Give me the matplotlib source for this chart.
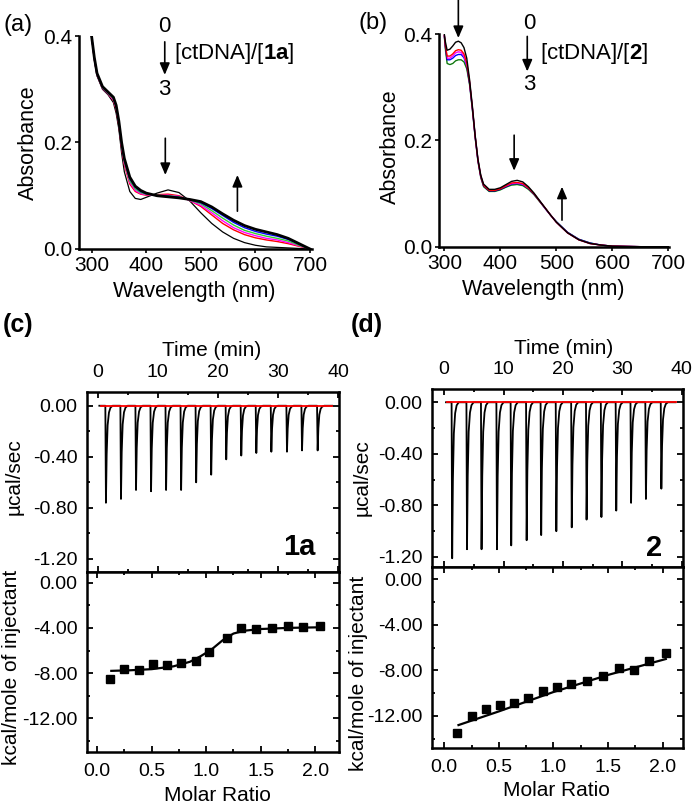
import matplotlib.pyplot as plt
import numpy as np
from matplotlib.ticker import MultipleLocator, FormatStrFormatter

plt.rcParams['font.family'] = ['Liberation Sans', 'DejaVu Sans']
plt.rcParams['axes.unicode_minus'] = False
plt.rcParams['mathtext.fontset'] = 'custom'
plt.rcParams['mathtext.rm'] = 'Liberation Sans'
plt.rcParams['mathtext.bf'] = 'Liberation Sans:bold'

# ---- (a) UV-vis titration of 1a ----
wl_a = [300, 305, 310, 320, 330, 340, 345, 350, 355, 360, 370, 380, 390, 400, 420,
        440, 460, 480, 500, 520, 540, 560, 580, 600, 620, 640, 660, 680, 700]
abs_a_0 = [0.400, 0.355, 0.325, 0.300, 0.290, 0.275, 0.255, 0.225, 0.180, 0.145, 0.108, 0.095, 0.093, 0.097, 0.105,
           0.111, 0.106, 0.090, 0.068, 0.048, 0.032, 0.020, 0.012, 0.007, 0.004, 0.003, 0.002, 0.001, 0.000]
abs_a_red = [0.400, 0.357, 0.327, 0.302, 0.292, 0.279, 0.262, 0.232, 0.190, 0.158, 0.122, 0.108, 0.103, 0.101, 0.102,
             0.103, 0.100, 0.091, 0.080, 0.064, 0.048, 0.036, 0.027, 0.021, 0.017, 0.014, 0.010, 0.005, 0.000]
abs_a_mag = [0.400, 0.357, 0.327, 0.302, 0.292, 0.280, 0.264, 0.234, 0.192, 0.161, 0.125, 0.110, 0.104, 0.102, 0.101,
             0.101, 0.099, 0.091, 0.082, 0.068, 0.053, 0.040, 0.031, 0.025, 0.020, 0.017, 0.012, 0.006, 0.000]
abs_a_green = [0.400, 0.358, 0.328, 0.303, 0.293, 0.282, 0.266, 0.236, 0.195, 0.164, 0.128, 0.113, 0.106, 0.103, 0.101,
               0.100, 0.098, 0.092, 0.085, 0.072, 0.058, 0.045, 0.035, 0.029, 0.024, 0.020, 0.015, 0.007, 0.000]
abs_a_blue = [0.400, 0.359, 0.329, 0.304, 0.294, 0.284, 0.268, 0.238, 0.198, 0.167, 0.132, 0.116, 0.108, 0.104, 0.100,
              0.099, 0.097, 0.093, 0.087, 0.076, 0.063, 0.050, 0.040, 0.033, 0.028, 0.024, 0.018, 0.009, 0.000]
abs_a_3 = [0.400, 0.360, 0.330, 0.305, 0.295, 0.285, 0.270, 0.240, 0.200, 0.170, 0.135, 0.118, 0.110, 0.105, 0.100,
           0.098, 0.096, 0.093, 0.089, 0.079, 0.066, 0.054, 0.044, 0.037, 0.032, 0.027, 0.020, 0.010, 0.000]

# ---- (b) UV-vis titration of 2 ----
wl_b = [300, 302, 305, 310, 315, 320, 325, 330, 335, 340, 345, 350, 355, 360, 365, 370, 380, 390,
        400, 410, 420, 430, 440, 450, 460, 470, 480, 490, 500, 520, 540, 560, 580, 600, 650, 700]
abs_b_0 = [0.400, 0.385, 0.370, 0.372, 0.378, 0.385, 0.387, 0.384, 0.375, 0.355, 0.315, 0.265, 0.210, 0.165,
           0.135, 0.118, 0.108, 0.108, 0.111, 0.117, 0.123, 0.125, 0.122, 0.113, 0.101, 0.087, 0.073, 0.059,
           0.046, 0.026, 0.013, 0.006, 0.003, 0.001, 0.000, 0.000]
abs_b_red = [0.398, 0.378, 0.359, 0.359, 0.363, 0.369, 0.371, 0.370, 0.363, 0.346, 0.311, 0.262, 0.208, 0.163,
             0.133, 0.116, 0.106, 0.106, 0.109, 0.115, 0.120, 0.121, 0.119, 0.111, 0.100, 0.086, 0.073, 0.059,
             0.046, 0.026, 0.013, 0.006, 0.003, 0.001, 0.000, 0.000]
abs_b_mag = [0.397, 0.376, 0.355, 0.355, 0.359, 0.365, 0.367, 0.366, 0.359, 0.343, 0.309, 0.261, 0.207, 0.162,
             0.132, 0.115, 0.106, 0.106, 0.109, 0.114, 0.119, 0.120, 0.118, 0.110, 0.099, 0.086, 0.072, 0.059,
             0.046, 0.026, 0.013, 0.006, 0.003, 0.001, 0.000, 0.000]
abs_b_blue = [0.397, 0.375, 0.352, 0.352, 0.355, 0.360, 0.362, 0.362, 0.356, 0.341, 0.308, 0.260, 0.207, 0.162,
              0.132, 0.115, 0.105, 0.105, 0.108, 0.113, 0.118, 0.119, 0.117, 0.110, 0.099, 0.086, 0.072, 0.059,
              0.047, 0.027, 0.014, 0.007, 0.003, 0.001, 0.000, 0.000]
abs_b_3 = [0.395, 0.370, 0.345, 0.343, 0.345, 0.350, 0.352, 0.352, 0.348, 0.335, 0.305, 0.258, 0.205, 0.160,
           0.130, 0.113, 0.104, 0.104, 0.107, 0.112, 0.116, 0.117, 0.115, 0.108, 0.098, 0.085, 0.072, 0.059,
           0.047, 0.027, 0.014, 0.007, 0.003, 0.001, 0.000, 0.000]

# ---- ITC raw data: injection times (min) and peak depths (ucal/sec) ----
inj_time_c = [1.4, 3.9, 6.4, 8.9, 11.4, 13.9, 16.4, 18.9, 21.4, 23.9, 26.4, 28.9, 31.5, 34.0, 36.6]
peak_c = [0.76, 0.73, 0.66, 0.67, 0.66, 0.66, 0.60, 0.54, 0.42, 0.39, 0.37, 0.36, 0.36, 0.35, 0.35]
inj_time_d = [1.35, 3.85, 6.3, 8.9, 11.3, 13.9, 16.35, 18.9, 21.5, 24.0, 26.5, 29.0, 31.5, 34.0, 36.6]
peak_d = [1.21, 1.14, 1.14, 1.14, 1.11, 1.07, 1.03, 1.00, 0.97, 0.91, 0.89, 0.84, 0.78, 0.75, 0.67]
# spike shape (min after injection, fraction of depth)
spike_dt = [-0.1, 0.0, 0.12, 0.28, 0.5, 0.75, 1.1]
spike_frac = [0.0, 1.0, 0.5, 0.2, 0.07, 0.02, 0.0]

# ---- ITC integrated heats ----
ratio_c = [0.12, 0.25, 0.38, 0.51, 0.64, 0.77, 0.91, 1.03, 1.19, 1.32, 1.46, 1.60, 1.75, 1.89, 2.04]
heat_c = [-8.55, -7.6, -7.75, -7.15, -7.3, -7.1, -6.9, -6.1, -4.9, -4.05, -4.1, -4.05, -3.8, -3.9, -3.8]
fit_x_c = [0.13, 0.3, 0.5, 0.7, 0.85, 0.95, 1.05, 1.15, 1.25, 1.35, 1.5, 1.75, 2.03]
fit_y_c = [-7.8, -7.75, -7.65, -7.4, -7.0, -6.5, -5.9, -5.1, -4.5, -4.25, -4.1, -4.0, -3.95]

ratio_d = [0.12, 0.25, 0.38, 0.51, 0.64, 0.77, 0.90, 1.03, 1.16, 1.31, 1.45, 1.60, 1.74, 1.88, 2.03]
heat_d = [-13.5, -12.0, -11.4, -11.0, -10.9, -10.4, -9.8, -9.5, -9.2, -8.9, -8.5, -7.8, -8.0, -7.2, -6.5]
fit_x_d = [0.13, 0.5, 1.0, 1.5, 2.03]
fit_y_d = [-12.8, -11.6, -9.9, -8.4, -7.0]

W, H = 695, 805
fig = plt.figure(figsize=(W / 100, H / 100), dpi=100)


def box(x0, y0, x1, y1):
    return [x0 / W, 1 - y1 / H, (x1 - x0) / W, (y1 - y0) / H]


def ftext(x, y, s, **kw):
    fig.text(x / W, 1 - y / H, s, ha='center', va='center', **kw)


def uv_style(ax, xlim):
    ax.set_xlim(*xlim)
    ax.set_ylim(0, 0.4)
    ax.set_xticks([300, 400, 500, 600, 700])
    ax.set_yticks([0.0, 0.2, 0.4])
    ax.yaxis.set_major_formatter(FormatStrFormatter('%.1f'))
    for s in ['top', 'right']:
        ax.spines[s].set_visible(False)
    for s in ['left', 'bottom']:
        ax.spines[s].set_linewidth(1.8)
    ax.tick_params(direction='out', length=3, width=1.2, labelsize=15, pad=2)


arrow = dict(arrowstyle='-|>,head_length=0.7,head_width=0.3', color='k', lw=1.2, shrinkA=0, shrinkB=0)

# (a)
ax_a = fig.add_axes(box(79, 36, 311.7, 249))
for y, c, lw in [(abs_a_0, 'k', 0.9), (abs_a_red, 'red', 1.0), (abs_a_mag, 'magenta', 1.0),
                 (abs_a_green, 'limegreen', 1.0), (abs_a_blue, 'blue', 1.0), (abs_a_3, 'k', 2.0)]:
    ax_a.plot(wl_a, y, color=c, lw=lw)
uv_style(ax_a, (277, 703))
ax_a.text(434, 0.4175, '0', ha='center', va='center', fontsize=16, clip_on=False)
ax_a.annotate('', xy=(434, 0.327), xytext=(434, 0.389), arrowprops=arrow, annotation_clip=False)
ax_a.text(434, 0.299, '3', ha='center', va='center', fontsize=16)
ax_a.text(451, 0.3675, r'[ctDNA]/[$\mathbf{1a}$]', ha='left', va='center', fontsize=16, clip_on=False)
ax_a.annotate('', xy=(435, 0.139), xytext=(435, 0.208), arrowprops=arrow)
ax_a.annotate('', xy=(567, 0.139), xytext=(567, 0.071), arrowprops=arrow)

# (b)
ax_b = fig.add_axes(box(439.3, 34.3, 669, 246.7))
for y, c, lw in [(abs_b_3, 'limegreen', 1.0), (abs_b_blue, 'blue', 1.0), (abs_b_mag, 'magenta', 1.0),
                 (abs_b_red, 'red', 1.0), (abs_b_0, 'k', 1.0)]:
    ax_b.plot(wl_b, y, color=c, lw=lw)
ax_b.plot(wl_b, abs_b_3, color='k', lw=0.6, alpha=0.6)
uv_style(ax_b, (291, 701))
ax_b.text(452, 0.421, '0', ha='center', va='center', fontsize=16, clip_on=False)
ax_b.annotate('', xy=(448, 0.33), xytext=(448, 0.396), arrowprops=arrow, annotation_clip=False)
ax_b.text(452, 0.305, '3', ha='center', va='center', fontsize=16)
ax_b.text(470, 0.363, r'[ctDNA]/[$\mathbf{2}$]', ha='left', va='center', fontsize=16, clip_on=False)
ax_b.annotate('', xy=(325, 0.393), xytext=(325, 0.465), arrowprops=arrow, annotation_clip=False)
ax_b.annotate('', xy=(424.6, 0.143), xytext=(424.6, 0.21), arrowprops=arrow)
ax_b.annotate('', xy=(510, 0.113), xytext=(510, 0.05), arrowprops=arrow)

ftext(28, 143, 'Absorbance', rotation=90, fontsize=15.5)
ftext(194, 291.7, 'Wavelength (nm)', fontsize=15.5)
ftext(390, 146.7, 'Absorbance', rotation=90, fontsize=15.5)
ftext(543, 290, 'Wavelength (nm)', fontsize=15.5)
ftext(18, 25, '(a)', fontsize=17)
ftext(373, 23, '(b)', fontsize=17)


def itc_style(ax):
    for s in ax.spines.values():
        s.set_linewidth(1.8)
    ax.tick_params(which='both', direction='in', top=True, right=True, width=1.3, labelsize=14)
    ax.tick_params(which='major', length=4)
    ax.tick_params(which='minor', length=2.5)


def itc_panel(x0, x1, ytop, ymid, ybot, tlim, rlim, ylim_top, ylim_bot,
              inj_time, peaks, ratio, heat, fit_x, fit_y, tag, tag_xy):
    top = fig.add_axes(box(x0, ytop, x1, ymid))
    bot = fig.add_axes(box(x0, ymid, x1, ybot))
    t = [0.3]
    y = [0.0]
    for ti, pi in zip(inj_time, peaks):
        for dt, f in zip(spike_dt, spike_frac):
            t.append(ti + dt)
            y.append(-pi * f)
    t.append(39.0)
    y.append(0.0)
    top.plot(t, y, color='k', lw=1.3)
    top.plot([0.5, 39], [0, 0], color='red', lw=1.3)
    top.set_xlim(*tlim)
    top.set_ylim(*ylim_top)
    top.set_yticks([0, -0.4, -0.8, -1.2])
    top.yaxis.set_minor_locator(MultipleLocator(0.2))
    top.yaxis.set_major_formatter(FormatStrFormatter('%.2f'))
    top.set_xticks([0, 10, 20, 30, 40])
    top.xaxis.set_minor_locator(MultipleLocator(5))
    itc_style(top)
    top.tick_params(labeltop=True, labelbottom=False, pad=8)
    top.tick_params(axis='y', pad=7)
    top.text(tag_xy[0], tag_xy[1], tag, transform=top.transAxes, ha='center', va='center',
             fontsize=21, fontweight='bold')

    bot.plot(ratio, heat, 's', color='k', ms=6)
    bot.plot(fit_x, fit_y, color='k', lw=1.6)
    bot.set_xlim(*rlim)
    bot.set_ylim(*ylim_bot)
    bot.set_yticks([0, -4, -8, -12])
    bot.yaxis.set_minor_locator(MultipleLocator(2))
    bot.yaxis.set_major_formatter(FormatStrFormatter('%.2f'))
    bot.set_xticks([0, 0.5, 1.0, 1.5, 2.0])
    bot.xaxis.set_minor_locator(MultipleLocator(0.25))
    bot.xaxis.set_major_formatter(FormatStrFormatter('%.1f'))
    itc_style(bot)
    bot.tick_params(axis='x', pad=8)
    bot.tick_params(axis='y', pad=7)
    return top, bot


itc_panel(87.3, 339.3, 391.7, 571.7, 751.7, (-1.7, 40.2), (-0.09, 2.22), (-1.30, 0.11), (-14.95, 0.97),
          inj_time_c, peak_c, ratio_c, heat_c, fit_x_c, fit_y_c, '1a', (0.84, 0.137))
itc_panel(432.3, 683.3, 389, 567.3, 748.3, (-2.0, 40.3), (-0.11, 2.19), (-1.28, 0.103), (-14.84, 1.05),
          inj_time_d, peak_d, ratio_d, heat_d, fit_x_d, fit_y_d, '2', (0.883, 0.107))

ftext(212, 350, 'Time (min)', fontsize=15)
ftext(217, 795, 'Molar Ratio', fontsize=15)
ftext(14, 477, 'µcal/sec', rotation=90, fontsize=15)
ftext(12, 667.5, 'kcal/mole of injectant', rotation=90, fontsize=15)
ftext(564, 348, 'Time (min)', fontsize=15)
ftext(556.7, 790, 'Molar Ratio', fontsize=15)
ftext(362, 478, 'µcal/sec', rotation=90, fontsize=15)
ftext(358, 673.5, 'kcal/mole of injectant', rotation=90, fontsize=15)
ftext(18, 325, '(c)', fontsize=18, fontweight='bold')
ftext(367, 325, '(d)', fontsize=18, fontweight='bold')

fig.savefig('out.png', dpi=100)
